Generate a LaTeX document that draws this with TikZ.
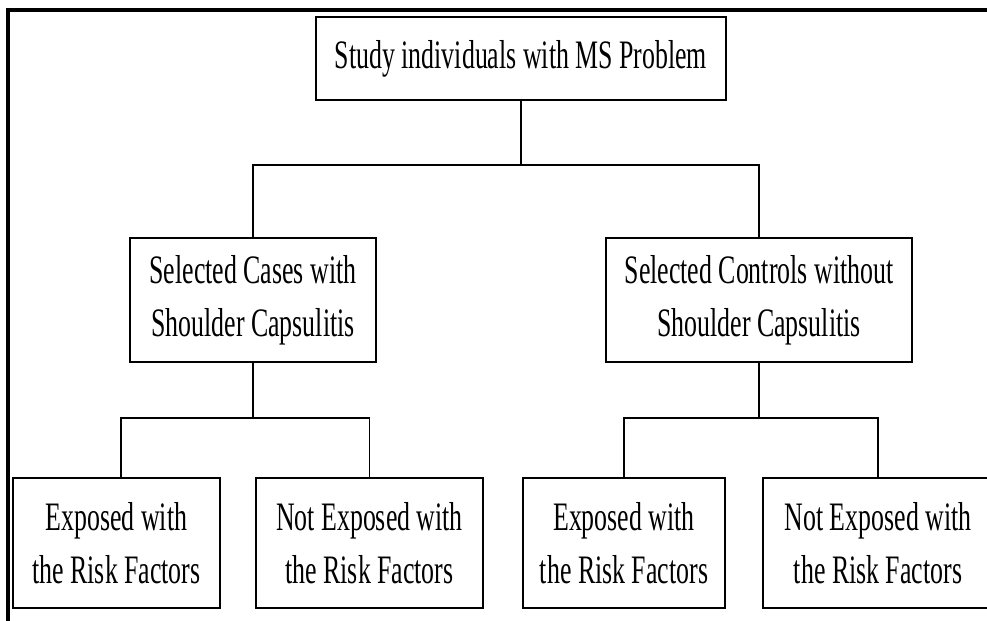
\documentclass[tikz,border=0pt]{standalone}
\usepackage{fontspec}
\setmainfont{Liberation Serif}[FakeStretch=0.64]
\begin{document}
\begin{tikzpicture}[x=0.02cm, y=-0.02cm,
        box/.style={draw, line width=1.1pt, align=center, inner sep=0pt,
            font=\fontsize{23}{30}\selectfont},
        link/.style={draw, line width=1pt}]
            \useasboundingbox (0,0) rectangle (987,620);
            \clip (0,0) rectangle (987,620);
            \draw[line width=2pt] (8,10) rectangle (1000,640);

            \node[box, minimum width=8.2cm, minimum height=1.66cm] (study) at (521,58.5) {Study individuals with MS Problem};
            \node[box, minimum width=4.92cm, minimum height=2.48cm] (cases) at (253,300) {Selected Cases with\\Shoulder Capsulitis};
            \node[box, minimum width=6.12cm, minimum height=2.48cm] (controls) at (759,300) {Selected Controls without\\Shoulder Capsulitis};

            \node[box, minimum width=4.14cm, minimum height=2.6cm] (casesexp) at (116.5,543) {Exposed with\\the Risk Factors};
            \node[box, minimum width=4.54cm, minimum height=2.6cm] (casesnot) at (369.5,543) {Not Exposed with\\the Risk Factors};
            \node[box, minimum width=4.04cm, minimum height=2.6cm] (controlsexp) at (624,543) {Exposed with\\the Risk Factors};
            \node[box, minimum width=4.6cm, minimum height=2.6cm] (controlsnot) at (878,543) {Not Exposed with\\the Risk Factors};

            \coordinate (split) at (521,165);
            \coordinate (casessplit) at (253,418);
            \coordinate (controlssplit) at (759,418);

            \draw[link] (study) -- (split);
            \draw[link] (cases) |- (split) -| (controls);
            \draw[link] (cases) -- (casessplit);
            \draw[link] ([xshift=0.09cm]casesexp.north) |- (casessplit) -| (casesnot);
            \draw[link] (controls) -- (controlssplit);
            \draw[link] (controlsexp) |- (controlssplit) -| (controlsnot);
        \end{tikzpicture}
\end{document}
